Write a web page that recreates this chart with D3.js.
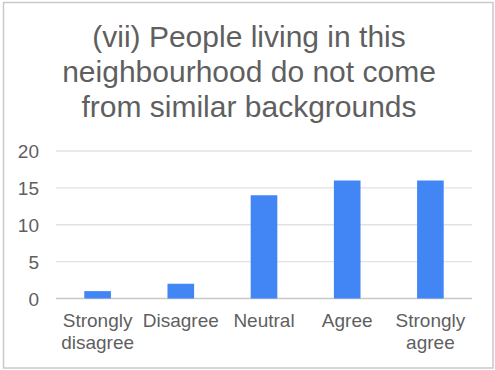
<!DOCTYPE html>
<html>
<head>
<meta charset="utf-8">
<script src="https://cdn.jsdelivr.net/npm/d3@7/dist/d3.min.js"></script>
<style>
  html, body { margin: 0; padding: 0; background: #fff; }
  svg { display: block; font-family: "Liberation Sans", Arial, sans-serif; }
</style>
</head>
<body>
<svg id="chart" width="495" height="370"></svg>
<script>
// Survey responses for statement (vii)
const titleLines = ["(vii) People living in this", "neighbourhood do not come", "from similar backgrounds"];
const categories = ["Strongly disagree", "Disagree", "Neutral", "Agree", "Strongly agree"];
const categoryLines = [["Strongly", "disagree"], ["Disagree"], ["Neutral"], ["Agree"], ["Strongly", "agree"]];
const counts = [1, 2, 14, 16, 16];
const yTicks = [0, 5, 10, 15, 20];

const svg = d3.select("#chart");
const textColor = "#5f5f5f";

// outer frame
svg.append("rect")
  .attr("x", 3.5).attr("y", 2.5)
  .attr("width", 489.5).attr("height", 365.5)
  .attr("fill", "#fff")
  .attr("stroke", "#c9c9c9")
  .attr("stroke-width", 1.5);

// title
svg.append("g").selectAll("text")
  .data(titleLines)
  .join("text")
  .attr("x", 249)
  .attr("y", (d, i) => 46.5 + i * 35)
  .attr("text-anchor", "middle")
  .attr("font-size", 30)
  .attr("fill", textColor)
  .text(d => d);

const plot = { left: 56, right: 472, top: 151, bottom: 298.5 };

const x = d3.scaleBand()
  .domain(categories)
  .range([plot.left, plot.right])
  .paddingInner(0.68)
  .paddingOuter(0.34);

const y = d3.scaleLinear()
  .domain([0, 20])
  .range([plot.bottom, plot.top]);

// gridlines
svg.append("g")
  .selectAll("line")
  .data(yTicks)
  .join("line")
  .attr("x1", plot.left).attr("x2", plot.right)
  .attr("y1", d => y(d)).attr("y2", d => y(d))
  .attr("stroke", d => d === 0 ? "#c8c8c8" : "#e2e2e2")
  .attr("stroke-width", 1.3);

// y axis labels
const yAxis = d3.axisLeft(y).tickValues(yTicks).tickSize(0).tickPadding(0);
const yg = svg.append("g")
  .attr("transform", `translate(39,0)`)
  .call(yAxis);
yg.select(".domain").remove();
yg.selectAll("text")
  .attr("font-size", 19)
  .attr("fill", textColor)
  .attr("font-family", "Liberation Sans, Arial, sans-serif")
  .attr("dy", "0.36em");

// bars
svg.append("g")
  .selectAll("rect")
  .data(counts)
  .join("rect")
  .attr("x", (d, i) => x(categories[i]))
  .attr("y", d => y(d))
  .attr("width", x.bandwidth())
  .attr("height", d => y(0) - y(d))
  .attr("fill", "#4285f4");

// category labels
const xl = svg.append("g")
  .selectAll("text")
  .data(categories)
  .join("text")
  .attr("text-anchor", "middle")
  .attr("font-size", 19)
  .attr("fill", textColor)
  .attr("transform", d => `translate(${x(d) + x.bandwidth() / 2},327)`);
xl.selectAll("tspan")
  .data((d, i) => categoryLines[i])
  .join("tspan")
  .attr("x", 0)
  .attr("y", (d, i) => i * 21.5)
  .text(d => d);
</script>
</body>
</html>
